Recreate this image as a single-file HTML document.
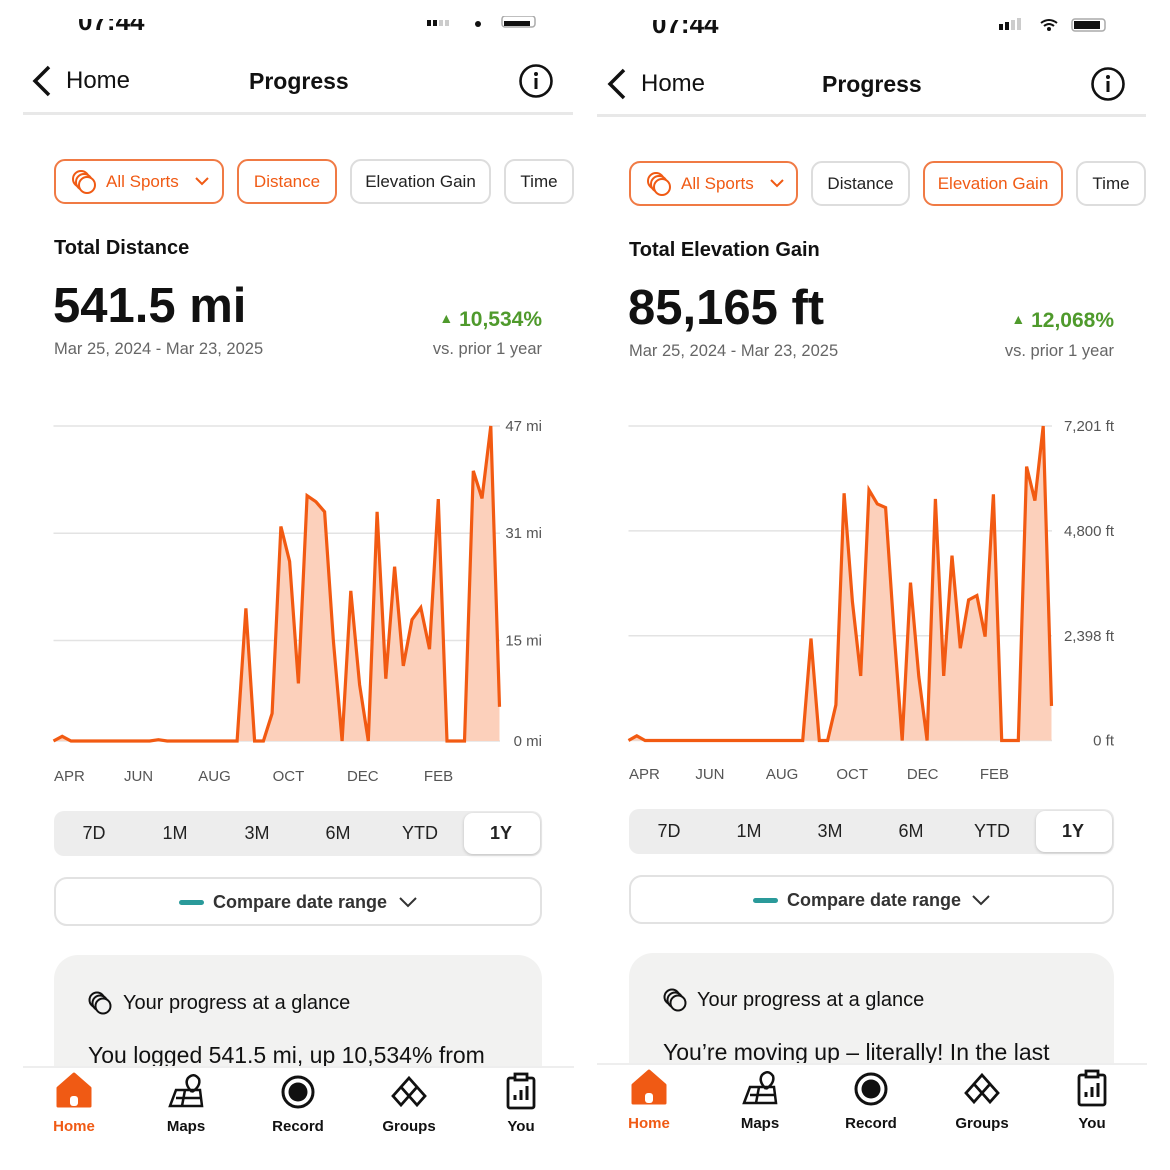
<!DOCTYPE html>
<html><head><meta charset="utf-8">
<style>
*{margin:0;padding:0;box-sizing:border-box}
body{width:1170px;height:1170px;background:#fff;position:relative;overflow:hidden;font-family:"Liberation Sans",sans-serif;color:#111}
.a{position:absolute}
.t{position:absolute;white-space:nowrap;line-height:1}
.chip{position:absolute;border:2px solid #ddd;border-radius:11px;background:#fff;display:flex;align-items:center;justify-content:center;font-size:17px;color:#222}
.chip.on{border-color:#f07a44;color:#f05a14}
.seg{position:absolute;background:#ededed;border-radius:10px}
.seg .s{position:absolute;top:0;height:100%;display:flex;align-items:center;justify-content:center;font-size:18px;color:#222;width:80px;margin-left:-40px}
.sel{position:absolute;background:#fff;border-radius:9px;box-shadow:0 1px 3px rgba(0,0,0,.2)}
.cmp{position:absolute;border:2px solid #e2e2e2;border-radius:13px;background:#fff}
.card{position:absolute;background:#f2f2f1;border-radius:24px}
.navbar{position:absolute;background:#fff;border-top:2px solid #eee}
.nl{position:absolute;font-size:15px;font-weight:bold;width:90px;margin-left:-45px;text-align:center;line-height:1}
.gray{color:#666}
</style></head><body>

<!-- ===== LEFT PANEL ===== -->
<div>
<div class="t" style="left:78px;top:8px;font-size:26px;font-weight:bold;clip-path:inset(11px 0 0 0)">07:44</div>
<svg class="a" style="left:425px;top:16px" width="115" height="14"><rect x="2" y="4" width="4" height="6" fill="#111"/><rect x="8" y="4" width="4" height="6" fill="#111"/><rect x="14" y="4" width="4" height="6" fill="#ccc"/><rect x="20" y="4" width="4" height="6" fill="#ccc"/><circle cx="53" cy="8" r="3" fill="#111"/><rect x="77" y="0" width="33" height="11" rx="3" fill="none" stroke="#aaa" stroke-width="1.5"/><rect x="79" y="5" width="26" height="5" fill="#111"/></svg>
<svg class="a" style="left:30px;top:64px" width="24" height="34"><path d="M19 3 L5 17 L19 31" fill="none" stroke="#111" stroke-width="3.5"/></svg>
<div class="t" style="left:66px;top:69px;font-size:24px">Home</div>
<div class="t" style="left:249px;top:70px;font-size:23px;font-weight:bold">Progress</div>
<svg class="a" style="left:518px;top:63px" width="36" height="36"><circle cx="18" cy="18" r="15.5" fill="none" stroke="#111" stroke-width="2.6"/><rect x="16.5" y="15" width="3" height="11" fill="#111"/><circle cx="18" cy="11" r="2" fill="#111"/></svg>
<div class="a" style="left:23px;top:112px;width:550px;height:3px;background:#e8e8e8"></div>

<div class="chip on" style="left:54px;top:159px;width:170px;height:45px;justify-content:flex-start;padding-left:14px"><svg width="28" height="26"><circle cx="11" cy="10" r="8" fill="none" stroke="#f05a14" stroke-width="2"/><circle cx="14" cy="13" r="8" fill="#fff" stroke="#f05a14" stroke-width="2"/><circle cx="17" cy="16" r="8" fill="#fff" stroke="#f05a14" stroke-width="2"/></svg><span style="margin-left:8px">All Sports</span><svg width="30" height="14" style="margin-left:8px"><path d="M9 3 L15 9 L21 3" fill="none" stroke="#f05a14" stroke-width="2"/></svg></div>
<div class="chip on" style="left:237px;top:159px;width:100px;height:45px">Distance</div>
<div class="chip" style="left:350px;top:159px;width:141px;height:45px">Elevation Gain</div>
<div class="chip" style="left:504px;top:159px;width:70px;height:45px">Time</div>

<div class="t" style="left:54px;top:238px;font-size:20px;font-weight:bold">Total Distance</div>
<div class="t" style="left:53px;top:282px;font-size:49px;font-weight:bold">541.5 mi</div>
<div class="t" style="right:628px;top:309px;font-size:21px;font-weight:bold;color:#4f9a2c"><span style="font-size:14px;vertical-align:3px">▲</span> 10,534%</div>
<div class="t gray" style="left:54px;top:341px;font-size:16.5px">Mar 25, 2024 - Mar 23, 2025</div>
<div class="t gray" style="right:628px;top:341px;font-size:16.5px">vs. prior 1 year</div>

<svg id="chartL" class="a" style="left:0;top:400px" width="585" height="400"></svg>

<div class="seg" style="left:54px;top:811px;width:488px;height:45px">
<div class="sel" style="left:410px;top:2px;width:76px;height:41px"></div>
<div class="s" style="left:40px">7D</div>
<div class="s" style="left:121px">1M</div>
<div class="s" style="left:203px">3M</div>
<div class="s" style="left:284px">6M</div>
<div class="s" style="left:366px">YTD</div>
<div class="s" style="left:447px;font-weight:bold">1Y</div>
</div>
<div class="cmp" style="left:54px;top:877px;width:488px;height:49px">
<div class="a" style="left:123px;top:21px;width:25px;height:5px;border-radius:3px;background:#2a9a9a"></div>
<div class="t" style="left:157px;top:14px;font-size:18px;font-weight:bold;color:#333">Compare date range</div>
<svg class="a" style="left:342px;top:16px" width="20" height="14"><path d="M2 3 L10 11 L18 3" fill="none" stroke="#333" stroke-width="2"/></svg>
</div>
<div class="card" style="left:54px;top:955px;width:488px;height:140px">
<svg class="a" style="left:33px;top:36px" width="26" height="26"><circle cx="10" cy="9" r="7.5" fill="none" stroke="#111" stroke-width="2"/><circle cx="13" cy="12" r="7.5" fill="#f2f2f1" stroke="#111" stroke-width="2"/><circle cx="16" cy="15" r="7.5" fill="#f2f2f1" stroke="#111" stroke-width="2"/></svg>
<div class="t" style="left:69px;top:38px;font-size:20px">Your progress at a glance</div>
<div class="t" style="left:34px;top:89px;font-size:23px">You logged 541.5 mi, up 10,534% from</div>
</div>
<div class="navbar" style="left:23px;top:1066px;width:551px;height:104px"></div>
</div>

<!-- ===== RIGHT PANEL ===== -->
<div>
<div class="t" style="left:652px;top:11px;font-size:26px;font-weight:bold;clip-path:inset(9px 0 0 0)">07:44</div>
<svg class="a" style="left:997px;top:18px" width="115" height="16"><rect x="2" y="6" width="4" height="6" fill="#111"/><rect x="8" y="4" width="4" height="8" fill="#111"/><rect x="14" y="2" width="4" height="10" fill="#ccc"/><rect x="20" y="0" width="4" height="12" fill="#ccc"/><path d="M44 5 Q52 -1 60 5 M47 8 Q52 4 57 8" fill="none" stroke="#111" stroke-width="2"/><circle cx="52" cy="11" r="2" fill="#111"/><rect x="75" y="1" width="33" height="12" rx="3" fill="none" stroke="#aaa" stroke-width="1.5"/><rect x="77" y="3" width="26" height="8" fill="#111"/></svg>
<svg class="a" style="left:605px;top:67px" width="24" height="34"><path d="M19 3 L5 17 L19 31" fill="none" stroke="#111" stroke-width="3.5"/></svg>
<div class="t" style="left:641px;top:72px;font-size:24px">Home</div>
<div class="t" style="left:822px;top:73px;font-size:23px;font-weight:bold">Progress</div>
<svg class="a" style="left:1090px;top:66px" width="36" height="36"><circle cx="18" cy="18" r="15.5" fill="none" stroke="#111" stroke-width="2.6"/><rect x="16.5" y="15" width="3" height="11" fill="#111"/><circle cx="18" cy="11" r="2" fill="#111"/></svg>
<div class="a" style="left:597px;top:114px;width:549px;height:3px;background:#e8e8e8"></div>

<div class="chip on" style="left:629px;top:161px;width:169px;height:45px;justify-content:flex-start;padding-left:14px"><svg width="28" height="26"><circle cx="11" cy="10" r="8" fill="none" stroke="#f05a14" stroke-width="2"/><circle cx="14" cy="13" r="8" fill="#fff" stroke="#f05a14" stroke-width="2"/><circle cx="17" cy="16" r="8" fill="#fff" stroke="#f05a14" stroke-width="2"/></svg><span style="margin-left:8px">All Sports</span><svg width="30" height="14" style="margin-left:8px"><path d="M9 3 L15 9 L21 3" fill="none" stroke="#f05a14" stroke-width="2"/></svg></div>
<div class="chip" style="left:811px;top:161px;width:99px;height:45px">Distance</div>
<div class="chip on" style="left:923px;top:161px;width:140px;height:45px">Elevation Gain</div>
<div class="chip" style="left:1076px;top:161px;width:70px;height:45px">Time</div>

<div class="t" style="left:629px;top:240px;font-size:20px;font-weight:bold">Total Elevation Gain</div>
<div class="t" style="left:628px;top:284px;font-size:49px;font-weight:bold">85,165 ft</div>
<div class="t" style="right:56px;top:310px;font-size:21px;font-weight:bold;color:#4f9a2c"><span style="font-size:14px;vertical-align:3px">▲</span> 12,068%</div>
<div class="t gray" style="left:629px;top:343px;font-size:16.5px">Mar 25, 2024 - Mar 23, 2025</div>
<div class="t gray" style="right:56px;top:343px;font-size:16.5px">vs. prior 1 year</div>

<svg id="chartR" class="a" style="left:585px;top:400px" width="585" height="400"></svg>

<div class="seg" style="left:629px;top:809px;width:485px;height:45px">
<div class="sel" style="left:407px;top:2px;width:76px;height:41px"></div>
<div class="s" style="left:40px">7D</div>
<div class="s" style="left:120px">1M</div>
<div class="s" style="left:201px">3M</div>
<div class="s" style="left:282px">6M</div>
<div class="s" style="left:363px">YTD</div>
<div class="s" style="left:444px;font-weight:bold">1Y</div>
</div>
<div class="cmp" style="left:629px;top:875px;width:485px;height:49px">
<div class="a" style="left:122px;top:21px;width:25px;height:5px;border-radius:3px;background:#2a9a9a"></div>
<div class="t" style="left:156px;top:14px;font-size:18px;font-weight:bold;color:#333">Compare date range</div>
<svg class="a" style="left:340px;top:16px" width="20" height="14"><path d="M2 3 L10 11 L18 3" fill="none" stroke="#333" stroke-width="2"/></svg>
</div>
<div class="card" style="left:629px;top:953px;width:485px;height:140px">
<svg class="a" style="left:33px;top:35px" width="26" height="26"><circle cx="10" cy="9" r="7.5" fill="none" stroke="#111" stroke-width="2"/><circle cx="13" cy="12" r="7.5" fill="#f2f2f1" stroke="#111" stroke-width="2"/><circle cx="16" cy="15" r="7.5" fill="#f2f2f1" stroke="#111" stroke-width="2"/></svg>
<div class="t" style="left:68px;top:37px;font-size:20px">Your progress at a glance</div>
<div class="t" style="left:34px;top:88px;font-size:23px">You’re moving up – literally! In the last</div>
</div>
<div class="navbar" style="left:597px;top:1063px;width:550px;height:107px"></div>
</div>

<!-- nav items -->
<svg class="a" style="left:0;top:0;pointer-events:none" width="1170" height="1170">
<g><path d="M58 1088 L74 1074 L90 1088 L90 1106 L58 1106 Z" fill="#f05a14" stroke="#f05a14" stroke-width="3" stroke-linejoin="round"/><rect x="70" y="1096" width="8" height="10" rx="3" fill="#fff"/></g>
<g fill="none" stroke="#111" stroke-width="2.5"><path d="M170 1106 L176 1090 L200 1090 L202 1106 Z M176 1098 L201 1098 M185 1090 L182 1106"/><path d="M192 1092 Q184 1084 188 1078 Q194 1072 199 1079 Q201 1086 192 1092"/></g>
<g><circle cx="298" cy="1092" r="15" fill="none" stroke="#111" stroke-width="3"/><circle cx="298" cy="1092" r="9.5" fill="#111"/></g>
<g fill="none" stroke="#111" stroke-width="2.8"><path d="M409 1078 L417 1087 L409 1096 L401 1087 Z M401 1087 L393 1096 L401 1105 L409 1096 M409 1096 L417 1105 L425 1096 L417 1087"/></g>
<g fill="none" stroke="#111" stroke-width="2.8"><rect x="508" y="1078" width="26" height="30" rx="2"/><rect x="515" y="1074" width="12" height="6" fill="#fff"/><path d="M515 1100 V1095 M521 1100 V1090 M527 1100 V1086" stroke-width="3"/></g>

<g><path d="M633 1085 L649 1071 L665 1085 L665 1103 L633 1103 Z" fill="#f05a14" stroke="#f05a14" stroke-width="3" stroke-linejoin="round"/><rect x="645" y="1093" width="8" height="10" rx="3" fill="#fff"/></g>
<g fill="none" stroke="#111" stroke-width="2.5"><path d="M744 1103 L750 1087 L774 1087 L776 1103 Z M750 1095 L775 1095 M759 1087 L756 1103"/><path d="M766 1089 Q758 1081 762 1075 Q768 1069 773 1076 Q775 1083 766 1089"/></g>
<g><circle cx="871" cy="1089" r="15" fill="none" stroke="#111" stroke-width="3"/><circle cx="871" cy="1089" r="9.5" fill="#111"/></g>
<g fill="none" stroke="#111" stroke-width="2.8"><path d="M982 1075 L990 1084 L982 1093 L974 1084 Z M974 1084 L966 1093 L974 1102 L982 1093 M982 1093 L990 1102 L998 1093 L990 1084"/></g>
<g fill="none" stroke="#111" stroke-width="2.8"><rect x="1079" y="1075" width="26" height="30" rx="2"/><rect x="1086" y="1071" width="12" height="6" fill="#fff"/><path d="M1086 1097 V1092 M1092 1097 V1087 M1098 1097 V1083" stroke-width="3"/></g>
</svg>
<div class="nl" style="left:74px;top:1119px;color:#f05a14">Home</div>
<div class="nl" style="left:186px;top:1119px">Maps</div>
<div class="nl" style="left:298px;top:1119px">Record</div>
<div class="nl" style="left:409px;top:1119px">Groups</div>
<div class="nl" style="left:521px;top:1119px">You</div>
<div class="nl" style="left:649px;top:1116px;color:#f05a14">Home</div>
<div class="nl" style="left:760px;top:1116px">Maps</div>
<div class="nl" style="left:871px;top:1116px">Record</div>
<div class="nl" style="left:982px;top:1116px">Groups</div>
<div class="nl" style="left:1092px;top:1116px">You</div>

<script>
// Weekly distance (mi), 52 weeks
const distanceValues = [0,0.7,0,0,0,0,0,0,0,0,0,0,0.2,0,0,0,0,0,0,0,0,0,19.8,0,0,4.1,32,26.8,8.6,36.6,35.7,34.2,15.1,0,22.4,8.4,0,34.2,9.3,26,11.2,18.1,19.9,13.7,36.1,0,0,0,40.3,36.2,47,5.1];
const distanceTicks = [0,15,31,47];
const distanceTickLabels = ["0 mi","15 mi","31 mi","47 mi"];
// Weekly elevation gain (ft), 52 weeks
const elevationValues = [0,107,0,0,0,0,0,0,0,0,0,0,0,0,0,0,0,0,0,0,0,0,2335,0,0,816,5661,3180,1480,5737,5417,5333,2533,0,3616,1465,0,5531,1480,4234,2113,3220,3319,2380,5638,0,0,0,6271,5493,7201,793];
const elevationTicks = [0,2398,4800,7201];
const elevationTickLabels = ["0 ft","2,398 ft","4,800 ft","7,201 ft"];
const monthLabels = ["APR","JUN","AUG","OCT","DEC","FEB"];
const monthWeekIndex = [0,8,16.5,25,33.5,42.3];

const NS = "http://www.w3.org/2000/svg";
function drawChart(svg, values, ticks, tickLabels, cfg) {
  const n = values.length;
  const maxV = ticks[ticks.length - 1];
  const xs = i => cfg.x0 + (cfg.x1 - cfg.x0) * i / (n - 1);
  const ys = v => cfg.y0 - (cfg.y0 - cfg.yTop) * v / maxV;
  ticks.forEach((t, k) => {
    const ln = document.createElementNS(NS, "line");
    
    
    ln.setAttribute("x1", cfg.x0); ln.setAttribute("x2", cfg.gridEnd);
    ln.setAttribute("y1", ys(t)); ln.setAttribute("y2", ys(t));
    ln.setAttribute("stroke", "#e3e3e3"); ln.setAttribute("stroke-width", "1.5");
    svg.appendChild(ln);
    const tx = document.createElementNS(NS, "text");
    
    
    tx.setAttribute("x", cfg.labelX); tx.setAttribute("y", ys(t) + 5);
    tx.setAttribute("text-anchor", "end");
    tx.setAttribute("font-size", "15"); tx.setAttribute("fill", "#555");
    tx.setAttribute("font-family", "Liberation Sans, sans-serif");
    tx.textContent = tickLabels[k];
    svg.appendChild(tx);
  });
  let pts = values.map((v, i) => xs(i).toFixed(1) + "," + ys(v).toFixed(1)).join(" ");
  const area = document.createElementNS(NS, "polygon");
  
  
  area.setAttribute("points", xs(0) + "," + cfg.y0 + " " + pts + " " + xs(n - 1) + "," + cfg.y0);
  area.setAttribute("fill", "#fcd0bb");
  svg.appendChild(area);
  const line = document.createElementNS(NS, "polyline");
  
  
  line.setAttribute("points", pts);
  line.setAttribute("fill", "none"); line.setAttribute("stroke", "#f25a12");
  line.setAttribute("stroke-width", "3.2"); line.setAttribute("stroke-linejoin", "miter");
  svg.appendChild(line);
  monthLabels.forEach((m, k) => {
    const tx = document.createElementNS(NS, "text");
    
    
    tx.setAttribute("x", xs(monthWeekIndex[k]) + 0.5);
    tx.setAttribute("y", cfg.monthY);
    tx.setAttribute("font-size", "15"); tx.setAttribute("fill", "#555");
    tx.setAttribute("font-family", "Liberation Sans, sans-serif");
    tx.textContent = m;
    svg.appendChild(tx);
  });
}
drawChart(document.getElementById("chartL"), distanceValues, distanceTicks, distanceTickLabels,
  {x0:53.5, x1:499.5, y0:341, yTop:26, gridEnd:500, labelX:542, monthY:381});
drawChart(document.getElementById("chartR"), elevationValues, elevationTicks, elevationTickLabels,
  {x0:43.5, x1:466.5, y0:340.5, yTop:26, gridEnd:467, labelX:529, monthY:379});
</script>
</body></html>
